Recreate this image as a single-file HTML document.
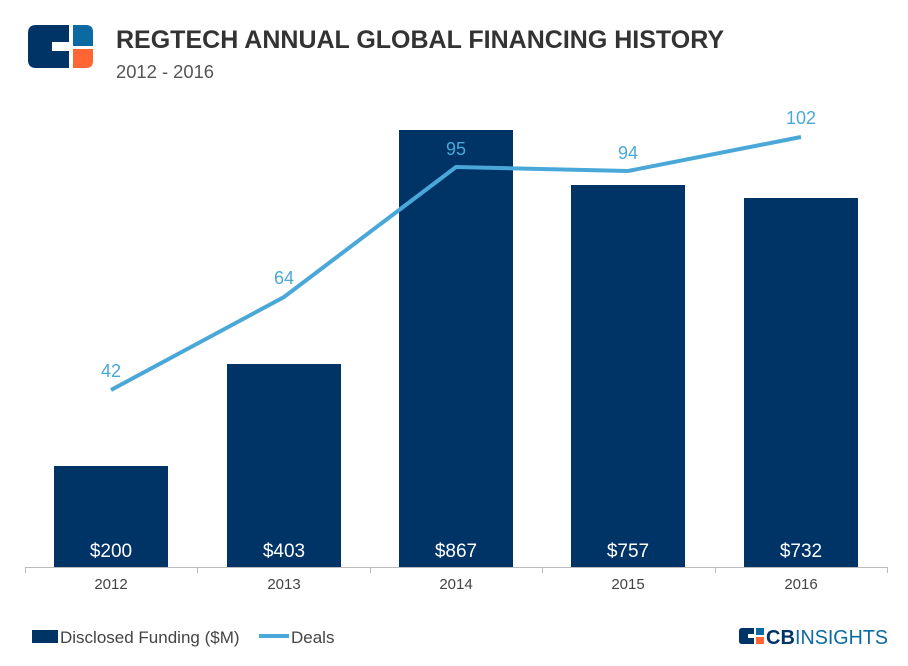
<!DOCTYPE html>
<html><head><style>
body{margin:0;background:#fff;font-family:"Liberation Sans",sans-serif;}
</style></head><body>
<svg width="908" height="661" xmlns="http://www.w3.org/2000/svg" font-family="Liberation Sans, sans-serif">
<rect width="908" height="661" fill="#fff"/>
<!-- logo -->
<path d="M36 25 H69 V42 H52 V51 H69 V68 H36 Q28 68 28 60 V33 Q28 25 36 25Z" fill="#003366"/>
<path d="M73 25 H86 Q93 25 93 32 V46 H73Z" fill="#0a6aa1"/>
<path d="M73 49 H93 V61 Q93 68 86 68 H73Z" fill="#ff6633"/>
<text x="116" y="48" font-size="25" font-weight="bold" fill="#333" textLength="608" lengthAdjust="spacingAndGlyphs">REGTECH ANNUAL GLOBAL FINANCING HISTORY</text>
<text x="116" y="78" font-size="18" fill="#555" textLength="98" lengthAdjust="spacingAndGlyphs">2012 - 2016</text>
<!-- bars -->
<g fill="#003366">
<rect x="54" y="466" width="114" height="101"/>
<rect x="227" y="364" width="114" height="203"/>
<rect x="399" y="130" width="114" height="437"/>
<rect x="571" y="185" width="114" height="382"/>
<rect x="744" y="198" width="114" height="369"/>
</g>
<g fill="#fff" font-size="19" text-anchor="middle">
<text x="111" y="557">$200</text><text x="284" y="557">$403</text><text x="456" y="557">$867</text><text x="628" y="557">$757</text><text x="801" y="557">$732</text>
</g>
<line x1="25" y1="567.5" x2="888" y2="567.5" stroke="#bbb"/>
<g stroke="#bbb"><line x1="25.5" y1="567" x2="25.5" y2="573"/><line x1="197.5" y1="567" x2="197.5" y2="573"/><line x1="370.5" y1="567" x2="370.5" y2="573"/><line x1="542.5" y1="567" x2="542.5" y2="573"/><line x1="715.5" y1="567" x2="715.5" y2="573"/><line x1="887.5" y1="567" x2="887.5" y2="573"/></g>
<g fill="#444" font-size="15" text-anchor="middle">
<text x="111" y="589">2012</text><text x="284" y="589">2013</text><text x="456" y="589">2014</text><text x="628" y="589">2015</text><text x="801" y="589">2016</text>
</g>
<polyline points="111,390 284,297 456,167 628,171 801,137" fill="none" stroke="#4aa8d8" stroke-width="4"/>
<g fill="#4aa8d8" font-size="18" text-anchor="middle">
<text x="111" y="377">42</text><text x="284" y="284">64</text><text x="456" y="155">95</text><text x="628" y="159">94</text><text x="801" y="124">102</text>
</g>
<!-- legend -->
<rect x="32" y="630" width="26" height="13" fill="#003366"/>
<text x="60" y="643" font-size="17" fill="#444">Disclosed Funding ($M)</text>
<rect x="259" y="634" width="30" height="4" fill="#4aa8d8"/>
<text x="291" y="643" font-size="17" fill="#444">Deals</text>
<!-- CB insights -->
<path d="M742 628 H754 V634 H748 V638 H754 V644 H742 Q739 644 739 641 V631 Q739 628 742 628Z" fill="#003366"/>
<rect x="756" y="628" width="8" height="7" fill="#0a6aa1"/>
<rect x="756" y="637" width="8" height="7" fill="#ff6633"/>
<text x="766" y="644" font-size="20" font-weight="bold" fill="#003366">CB</text>
<text x="795" y="644" font-size="20" fill="#0a6aa1" textLength="93" lengthAdjust="spacingAndGlyphs">INSIGHTS</text>
</svg>
</body></html>
